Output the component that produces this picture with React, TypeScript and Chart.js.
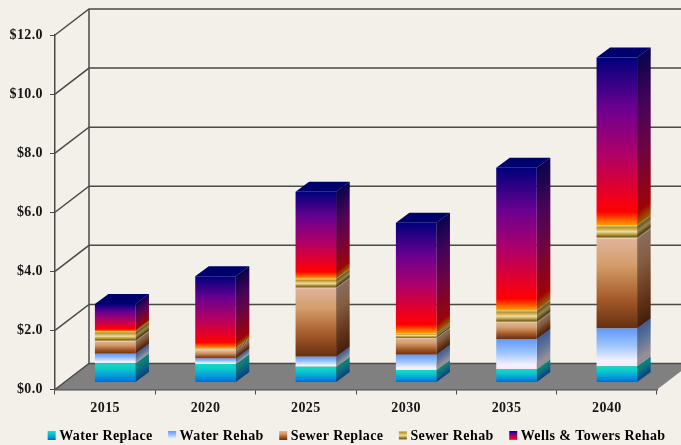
import React, { useEffect, useRef } from "react";
import { Chart, registerables } from "chart.js";

Chart.register(...registerables);

const years = ["2015", "2020", "2025", "2030", "2035", "2040"];
const waterReplace = [0.65, 0.63, 0.53, 0.42, 0.45, 0.55];
const waterRehab = [0.32, 0.18, 0.34, 0.52, 1.02, 1.28];
const sewerReplace = [0.42, 0.27, 2.32, 0.56, 0.55, 3.04];
const sewerRehab = [0.34, 0.08, 0.32, 0.17, 0.43, 0.45];
const wellsTowers = [0.93, 2.44, 2.95, 3.74, 4.82, 5.68];

type Stop = [number, string];

// Colour ramps run from the top of a segment (0) to its bottom (1).
const waterReplaceRamp: Stop[] = [[0, "#12dcc4"], [0.3, "#0cc8cc"], [0.7, "#0494dc"], [1, "#0068d8"]];
const waterRehabRamp: Stop[] = [[0, "#6298f8"], [0.45, "#9cc4ff"], [0.85, "#f4f0fc"], [1, "#f0ecf8"]];
const sewerReplaceRamp: Stop[] = [[0, "#e0b49c"], [0.3, "#d49c68"], [0.68, "#a4582a"], [1, "#643010"]];
const sewerRehabRamp: Stop[] = [[0, "#e4c878"], [0.18, "#b8962f"], [0.48, "#f0dc9a"], [0.72, "#b0902f"], [0.84, "#7e6222"], [1, "#ead8a6"]];
const wellsRamp: Stop[] = [[0, "#00007c"], [0.3, "#6a0090"], [0.58, "#b00068"], [0.88, "#f80010"], [0.92, "#ff0000"], [1, "#ffa000"]];

const seriesNames = ["Water Replace", "Water Rehab", "Sewer Replace", "Sewer Rehab", "Wells & Towers Rehab"];
const seriesValues = [waterReplace, waterRehab, sewerReplace, sewerRehab, wellsTowers];
const seriesRamps = [waterReplaceRamp, waterRehabRamp, sewerReplaceRamp, sewerRehabRamp, wellsRamp];

const tickFont = { family: "'Liberation Serif', serif", size: 14, weight: "bold" as const };
const ink = "#161616";
const rule = "#4a4a48";
const paper = "#f3efe9";

// Oblique projection: back wall offset, and where the bars stand on the floor.
const wallDx = 34;
const wallDy = -26;
const barDx = 10;
const barDy = -7;
const faceDx = 13.5;
const faceDy = -10;

function ramp(ctx: CanvasRenderingContext2D, top: number, bottom: number, stops: Stop[]) {
  const g = ctx.createLinearGradient(0, top, 0, bottom);
  stops.forEach(([o, c]) => g.addColorStop(o, c));
  return g;
}

const scenePlugin = {
  id: "scene",
  beforeUpdate(chart: any) {
    chart.ctx.letterSpacing = "0.4px";
  },
  beforeDraw(chart: any) {
    chart.ctx.letterSpacing = "0.4px";
  },
  beforeDatasetsDraw(chart: any) {
    const { ctx, chartArea: a, scales } = chart;
    ctx.save();
    // Floor
    ctx.fillStyle = "#808080";
    ctx.beginPath();
    ctx.moveTo(a.left, a.bottom);
    ctx.lineTo(a.left + wallDx, a.bottom + wallDy);
    ctx.lineTo(a.right + wallDx, a.bottom + wallDy);
    ctx.lineTo(a.right, a.bottom);
    ctx.closePath();
    ctx.fill();
    // Back wall rules and their returns to the front axis
    ctx.strokeStyle = rule;
    ctx.lineWidth = 1.5;
    scales.y.ticks.forEach((t: any) => {
      const y = scales.y.getPixelForValue(t.value);
      ctx.beginPath();
      ctx.moveTo(a.left, y);
      ctx.lineTo(a.left + wallDx, y + wallDy);
      ctx.lineTo(a.right + wallDx, y + wallDy);
      ctx.stroke();
    });
    ctx.beginPath();
    ctx.moveTo(a.left + wallDx, a.top + wallDy);
    ctx.lineTo(a.left + wallDx, a.bottom + wallDy);
    ctx.stroke();

    // Side and top faces, in the same shifted frame as the bar fronts
    ctx.translate(barDx, barDy);
    const slope = faceDy / faceDx;
    chart.data.datasets.forEach((ds: any, i: number) => {
      chart.getDatasetMeta(i).data.forEach((bar: any) => {
        const p = bar.getProps(["x", "y", "base", "width"], true);
        const x0 = p.x + p.width / 2;
        ctx.save();
        ctx.transform(1, slope, 0, 1, 0, -x0 * slope);
        ctx.fillStyle = ramp(ctx, p.y, p.base, seriesRamps[i]);
        ctx.fillRect(x0, p.y, faceDx, p.base - p.y);
        ctx.fillStyle = "rgba(20,10,10,0.42)";
        ctx.fillRect(x0, p.y, faceDx, p.base - p.y);
        ctx.restore();
        if (i === chart.data.datasets.length - 1) {
          ctx.fillStyle = "#00006c";
          ctx.beginPath();
          ctx.moveTo(p.x - p.width / 2, p.y);
          ctx.lineTo(p.x - p.width / 2 + faceDx, p.y + faceDy);
          ctx.lineTo(x0 + faceDx, p.y + faceDy);
          ctx.lineTo(x0, p.y);
          ctx.closePath();
          ctx.fill();
        }
      });
    });
    ctx.restore();
    // Bar fronts are drawn by the library inside this shifted frame
    ctx.save();
    ctx.translate(barDx, barDy);
  },
  afterDatasetsDraw(chart: any) {
    chart.ctx.restore();
  },
  afterDraw(chart: any) {
    const { ctx, legend } = chart;
    ctx.save();
    legend.legendHitBoxes.forEach((box: any, i: number) => {
      const top = box.top + 2;
      ctx.fillStyle = ramp(ctx, top, top + 9, seriesRamps[i]);
      ctx.fillRect(box.left, top, 8, 9);
    });
    ctx.restore();
  },
};

// Gradient for one stacked segment, taken from the running total below and above it.
function segmentFill(c: any, i: number) {
  const y = c.chart.scales?.y;
  if (c.dataIndex === undefined || !y) return "#888888";
  let below = 0;
  for (let k = 0; k < i; k++) below += seriesValues[k][c.dataIndex];
  const above = below + seriesValues[i][c.dataIndex];
  const top = y.getPixelForValue(above);
  const bottom = y.getPixelForValue(below);
  if (!isFinite(top) || !isFinite(bottom)) return "#888888";
  return ramp(c.chart.ctx, top, bottom, seriesRamps[i]);
}

export default function App() {
  const ref = useRef<HTMLCanvasElement>(null);
  useEffect(() => {
    const chart = new Chart(ref.current as HTMLCanvasElement, {
      type: "bar",
      data: {
        labels: years,
        datasets: seriesNames.map((label, i) => ({
          label,
          data: seriesValues[i],
          borderWidth: 0,
          barPercentage: 0.404,
          categoryPercentage: 1,
          backgroundColor: (c: any) => segmentFill(c, i),
        })),
      },
      options: {
        animation: false,
        responsive: false,
        clip: false,
        layout: { padding: { top: 35, right: 0, left: 0, bottom: -8 } },
        scales: {
          x: {
            stacked: true,
            afterFit: (s: any) => { s.height = 24; },
            border: { display: true, color: rule, width: 1.5 },
            grid: { drawOnChartArea: false, drawTicks: true, tickLength: 5, color: rule, lineWidth: 1 },
            ticks: { color: ink, font: tickFont, padding: 5, maxRotation: 0 },
          },
          y: {
            stacked: true,
            min: 0,
            max: 12,
            afterFit: (s: any) => { s.width = 55; },
            border: { display: true, color: rule, width: 1.5 },
            grid: { drawOnChartArea: false, drawTicks: true, tickLength: 5, color: rule, lineWidth: 1 },
            ticks: {
              stepSize: 2,
              color: ink,
              font: tickFont,
              padding: 7,
              callback: (v: any) => "$" + Number(v).toFixed(1),
            },
          },
          // Empty right-hand axis that holds room for the receding depth of the floor
          depthGutter: {
            type: "linear",
            position: "right",
            display: true,
            afterFit: (s: any) => { s.width = 24; },
            border: { display: false },
            grid: { display: false },
            ticks: { display: false },
          },
        },
        plugins: {
          tooltip: { enabled: false },
          legend: {
            position: "bottom",
            align: "end",
            onClick: () => {},
            labels: {
              boxWidth: 4.5,
              boxHeight: 9,
              padding: 15.5,
              color: ink,
              font: { family: "'Liberation Serif', serif", size: 14, weight: "bold" },
              generateLabels: () =>
                seriesNames.map((text, i) => ({
                  text,
                  datasetIndex: i,
                  fillStyle: "rgba(0,0,0,0)",
                  strokeStyle: "rgba(0,0,0,0)",
                  lineWidth: 0,
                })),
            },
          },
        },
      } as any,
      plugins: [scenePlugin],
    });
    return () => chart.destroy();
  }, []);
  return (
    <div style={{ position: "fixed", left: 0, top: 0, width: 681, height: 445, background: paper, overflow: "hidden" }}>
      <canvas ref={ref} width={681} height={445} style={{ display: "block" }} />
    </div>
  );
}
